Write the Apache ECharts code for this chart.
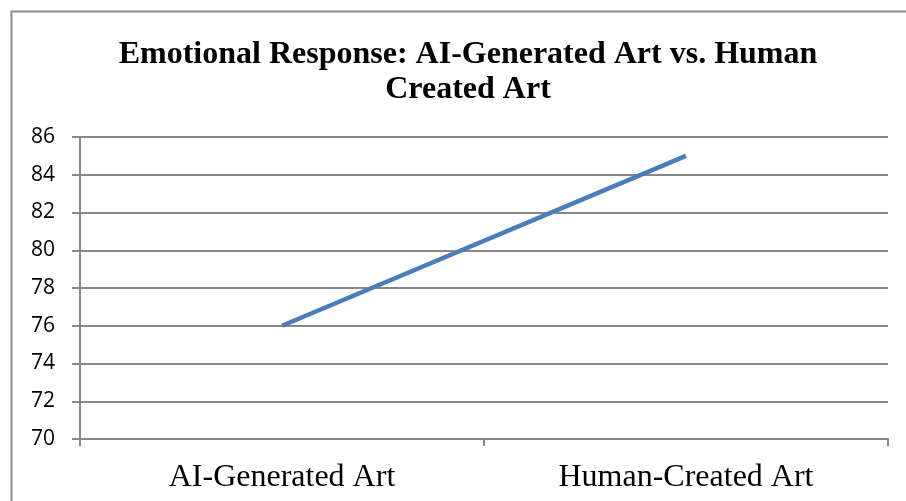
<!DOCTYPE html>
<html>
<head>
<meta charset="utf-8">
<script src="https://cdn.jsdelivr.net/npm/echarts@6/dist/echarts.min.js"></script>
<style>
  html, body { margin: 0; padding: 0; background: #fff; }
  #chart { width: 906px; height: 501px; }
</style>
</head>
<body>
<div id="chart"></div>
<script>
var categories = ['AI-Generated Art', 'Human-Created Art'];
var responseScores = [76, 85];

var chart = echarts.init(document.getElementById('chart'));

var option = {
    animation: false,
    backgroundColor: '#fff',
    title: {
        text: 'Emotional Response: AI-Generated Art vs. Human\nCreated Art',
        left: 463,
        top: 32,
        textAlign: 'center',
        textStyle: {
            fontFamily: 'Liberation Serif',
            fontWeight: 'bold',
            fontSize: 32,
            lineHeight: 35,
            color: '#000'
        }
    },
    graphic: [{
        type: 'rect',
        shape: { x: 11.5, y: 11.5, width: 1000, height: 600 },
        style: { fill: 'none', stroke: '#8c8c8c', lineWidth: 2 },
        silent: true
    }],
    grid: {
        left: 80,
        right: 18,
        top: 137,
        bottom: 62
    },
    xAxis: {
        type: 'category',
        data: categories,
        boundaryGap: true,
        axisLine: { show: true, lineStyle: { color: '#888', width: 2 } },
        axisTick: { show: true, length: 7, lineStyle: { color: '#888', width: 2 } },
        axisLabel: {
            fontFamily: 'Liberation Serif',
            fontSize: 32,
            color: '#000',
            margin: 23
        }
    },
    yAxis: {
        type: 'value',
        min: 70,
        max: 86,
        interval: 2,
        axisLine: { show: true, lineStyle: { color: '#888', width: 2 } },
        axisTick: { show: true, length: 8, lineStyle: { color: '#888', width: 2 } },
        splitLine: { show: true, lineStyle: { color: '#888', width: 2 } },
        axisLabel: {
            fontFamily: 'Open Sans',
            fontSize: 21,
            color: '#000',
            margin: 25
        }
    },
    series: [{
        type: 'line',
        data: responseScores,
        showSymbol: false,
        symbol: 'none',
        lineStyle: { color: '#4a7ebb', width: 4.5 }
    }]
};

chart.setOption(option);
</script>
</body>
</html>
